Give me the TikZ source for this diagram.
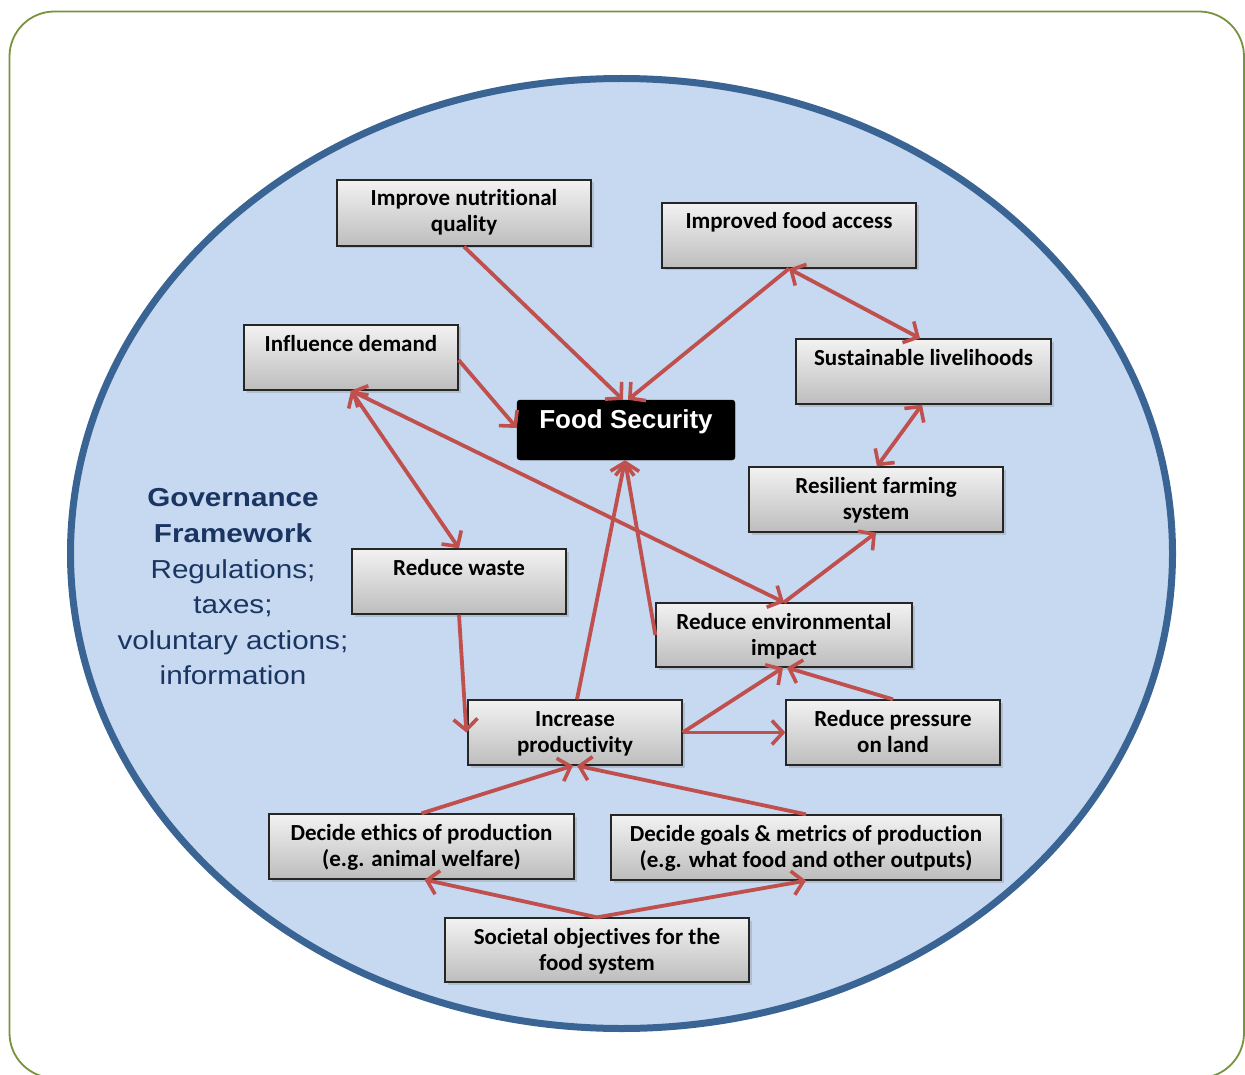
\documentclass[tikz,border=0pt]{standalone}
\usepackage{fontspec}
\setmainfont{Carlito}[RawFeature={-liga;-clig}]
\newfontfamily\arialfont{Liberation Sans}
\newfontfamily\govfont{Liberation Sans}[FakeStretch=1.14]
\usetikzlibrary{arrows.meta,shadows,calc}
\definecolor{ellfill}{HTML}{C6D9F1}
\definecolor{ellline}{HTML}{3A6494}
\definecolor{arr}{HTML}{C0504D}
\definecolor{gov}{HTML}{1B3562}
\definecolor{framec}{HTML}{77933C}
\definecolor{boxtop}{HTML}{F2F2F2}
\definecolor{boxbot}{HTML}{BDBDBD}
\definecolor{boxline}{HTML}{262626}
\newcommand\bxtext[3]{\parbox[c][#2pt][t]{#1pt}{\centering\fontsize{23}{26}\selectfont\bfseries\vspace*{7.8pt}\strut #3}}
\begin{document}
\begin{tikzpicture}[x=1pt,y=-1pt,
  box/.style={draw=boxline, line width=1.3pt, top color=boxtop, bottom color=boxbot, inner sep=0pt,
    drop shadow={opacity=0.3, shadow xshift=2.5pt, shadow yshift=-2.5pt}},
  fsbox/.style={fill=black, draw=black, rounded corners=3pt, inner sep=0pt, text=white},
  link/.style={draw=arr, line width=3.8pt, -{Straight Barb[length=11pt,width=24pt,line width=3.6pt]}},
  dlink/.style={draw=arr, line width=3.8pt, {Straight Barb[length=11pt,width=24pt,line width=3.6pt]}-{Straight Barb[length=11pt,width=24pt,line width=3.6pt]}}
]
\useasboundingbox (0,0) rectangle (1245,1075);
\begin{scope}
\clip (0,0) rectangle (1245,1075);
\draw[framec, line width=1.8pt, rounded corners=45pt] (9.5,11.5) rectangle (1244,1078);
\end{scope}
\draw[ellline, fill=ellfill, line width=7pt] (621.5,553.5) ellipse [x radius=551pt, y radius=475pt];

\node[box] (nut) at (464,213) {\bxtext{254}{66}{Improve nutritional\\quality}};
\node[box] (acc) at (789,235.5) {\bxtext{254}{65}{Improved food access}};
\node[box] (dem) at (351,357.5) {\bxtext{214}{65}{Influence demand}};
\node[fsbox] (fs) at (626,430) {\parbox[c][60pt][t]{218pt}{\centering\arialfont\fontsize{26}{30}\selectfont\bfseries\vspace*{7pt}\strut Food Security}};
\node[box] (liv) at (923.5,371.5) {\bxtext{255}{65}{Sustainable livelihoods}};
\node[box] (res) at (876,499.5) {\bxtext{254}{65}{Resilient farming\\system}};
\node[box] (waste) at (459,581.5) {\bxtext{214}{65}{Reduce waste}};
\node[box] (env) at (784,635) {\bxtext{256}{64}{Reduce environmental\\impact}};
\node[box] (prod) at (575,732.5) {\bxtext{214}{65}{Increase\\productivity}};
\node[box] (land) at (893,732.5) {\bxtext{214}{65}{Reduce pressure\\on land}};
\node[box] (eth) at (421.5,846.5) {\bxtext{305}{65}{Decide ethics of production\\(e.g. animal welfare)}};
\node[box] (goals) at (806,847.5) {\bxtext{390}{65}{Decide goals \& metrics of production\\(e.g. what food and other outputs)}};
\node[box] (soc) at (597,950) {\bxtext{304}{64}{Societal objectives for the\\food system}};

\node[text=gov, align=center, inner sep=0pt, font=\govfont\fontsize{26}{35.6}\selectfont] (govtxt) at (233,587)
  {\textbf{Governance}\\\textbf{Framework}\\Regulations;\\taxes;\\voluntary actions;\\information};

\draw[link] (nut.south) -- ([xshift=-3pt]fs.north);
\draw[link] (acc.south) -- ([xshift=2pt]fs.north);
\draw[dlink] (acc.south) -- ([xshift=-3.5pt]liv.north);
\draw[link] ([yshift=-2.5pt]dem.east) -- ([yshift=2pt]fs.west);
\draw[dlink] (dem.south) -- (waste.north);
\draw[dlink] (dem.south) -- (env.north);
\draw[dlink] ([xshift=-1.5pt]liv.south) -- ([xshift=1pt]res.north);
\draw[link] (env.north) -- (res.south);
\draw[link] (waste.south) -- ([xshift=-1pt]prod.west);
\draw[link] ([xshift=2pt]prod.north) -- ([xshift=-1pt]fs.south);
\draw[link] (env.west) -- ([xshift=-1pt]fs.south);
\draw[link] (prod.east) -- ([xshift=-1pt]env.south);
\draw[link] (prod.east) -- (land.west);
\draw[link] (land.north) -- ([xshift=3pt]env.south);
\draw[link] (eth.north) -- ([xshift=-2pt]prod.south);
\draw[link] (goals.north) -- ([xshift=2pt]prod.south);
\draw[link] (soc.north) -- ([xshift=3pt]eth.south);
\draw[link] (soc.north) -- (goals.south);
\end{tikzpicture}
\end{document}
